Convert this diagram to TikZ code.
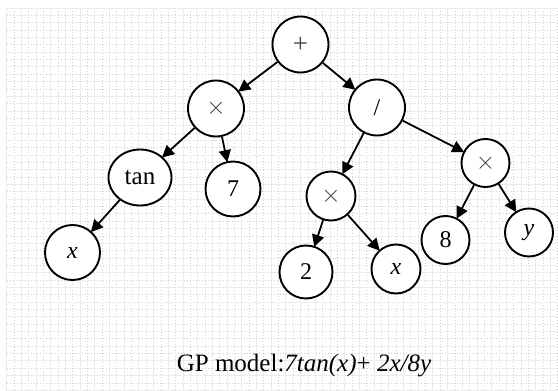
\documentclass[tikz,border=0pt]{standalone}
\usepackage{fontspec}
\setmainfont{Liberation Serif}
\usetikzlibrary{arrows.meta,shapes.geometric}
\begin{document}
\begin{tikzpicture}[x=1pt,y=-1pt,
  treenode/.style={circle,draw=black,line width=1.9pt,fill=white,minimum size=#1,inner sep=0pt,
                   font=\fontsize{24}{28}\selectfont},
  treenode/.default=50pt,
  opsym/.style={text=black!75,font=\fontsize{27}{30}\selectfont},
  link/.style={line width=1.8pt,-{Triangle[length=12pt,width=12pt]},shorten >=-1pt},
  gridfine/.style={draw=black!8,line width=0.8pt},
  gridmark/.style={draw=black!18,line width=0.6pt,dash pattern=on 1.2pt off 1.8pt}]
\useasboundingbox (0,0) rectangle (558,391);
\fill[white] (0,0) rectangle (558,391);

% squared paper backdrop
\foreach \i in {0,...,75} {
  \pgfmathsetmacro{\gx}{6.5+7.35*\i}
  \ifodd\i
    \draw[gridmark] (\gx,8) -- (\gx,391);
  \else
    \draw[gridfine] (\gx,8) -- (\gx,391);
  \fi
}
\foreach \j in {0,...,52} {
  \pgfmathsetmacro{\gy}{8+7.35*\j}
  \ifodd\j
    \draw[gridmark] (6.5,\gy) -- (558,\gy);
  \else
    \draw[gridfine] (6.5,\gy) -- (558,\gy);
  \fi
}

% expression tree
\node[treenode=56pt,opsym] (plus)  at (300.5,44.5) {+};
\node[treenode=56pt,opsym] (mulL)  at (216,108.5) {$\times$};
\node[treenode=56pt]       (div)   at (377,107.5) {/};
\node[treenode=48pt,opsym] (mulR)  at (485.5,163) {$\times$};
\node[ellipse,draw=black,line width=1.9pt,fill=white,minimum width=63pt,minimum height=56pt,inner sep=0pt,
      font=\fontsize{25}{28}\selectfont] (tan) at (140,177.5) {tan};
\node[treenode=55pt]       (seven) at (233,189) {7};
\node[treenode=55pt]       (xL)    at (72.5,252.5) {\itshape x};
\node[treenode=49pt,opsym] (mulM)  at (331,196) {$\times$};
\node[treenode=53pt]       (two)   at (306,272) {2};
\node[treenode=49pt]       (xM)    at (396,269) {\itshape x};
\node[treenode=48pt]       (eight) at (445.5,240) {8};
\node[treenode=48pt]       (yR)    at (529,232.5) {\itshape y};

\draw[link] (plus) -- (mulL);
\draw[link] (plus) -- (div);
\draw[link] (mulL) -- (tan);
\draw[link] (mulL) -- (seven);
\draw[link] (tan)  -- (xL);
\draw[link] (div)  -- (mulM);
\draw[link] (div)  -- (mulR);
\draw[link] (mulM) -- (two);
\draw[link] (mulM) -- (xM);
\draw[link] (mulR) -- (eight);
\draw[link] (mulR) -- (yR);

% caption
\node[font=\fontsize{25}{30}\selectfont,inner sep=0pt,anchor=base] (caption) at (304,371)
  {GP model:\textit{7tan(x)}+ \textit{2x/8y}};
\end{tikzpicture}
\end{document}
